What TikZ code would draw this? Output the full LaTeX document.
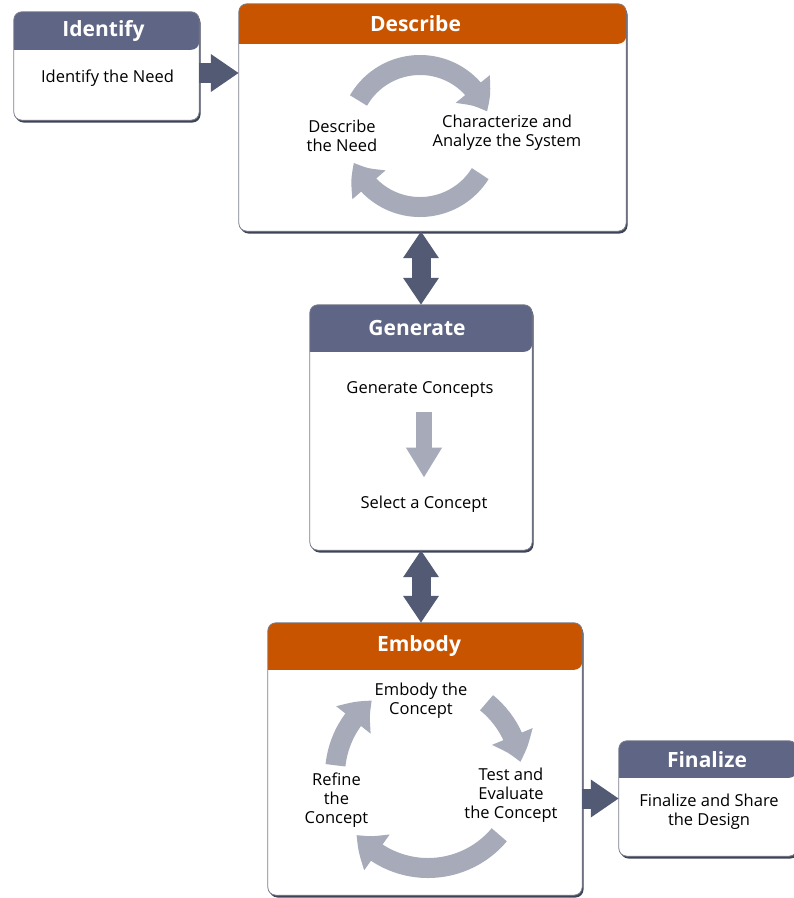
\documentclass[tikz,border=0pt]{standalone}
\usepackage{fontspec}
\setmainfont{Open Sans}
\usepackage{tikz}
\usetikzlibrary{arrows.meta,bending,shadows,positioning,calc}
\definecolor{slate}{HTML}{5F6584}
\definecolor{rust}{HTML}{C85400}
\definecolor{arrowdark}{HTML}{535A74}
\definecolor{cyclegray}{HTML}{A6AAB9}
\definecolor{edgegray}{HTML}{7A7D8C}

\begin{document}
\begin{tikzpicture}[x=1pt,y=1pt]
\tikzstyle{stage}=[rectangle,rounded corners=8pt,fill=white,inner sep=0pt,
  drop shadow={shadow xshift=1.5pt,shadow yshift=-2.5pt,fill=arrowdark!75!black,opacity=1}]
\tikzstyle{title}=[text=white,font=\bfseries\fontsize{21}{24}\selectfont]
\tikzstyle{steptext}=[align=center,inner sep=1pt,font=\fontsize{16.5}{19}\selectfont]
\tikzstyle{flow}=[arrowdark,line width=20pt,-{Triangle[length=28pt,width=36pt]}]
\tikzstyle{both}=[arrowdark,line width=19pt,{Triangle[length=27pt,width=34pt]}-{Triangle[length=27pt,width=34pt]}]
\tikzstyle{turn}=[cyclegray,line width=20pt,-{Triangle[length=27pt,width=42pt,bend]}]
\tikzstyle{drop}=[cyclegray,line width=16pt,-{Triangle[length=30pt,width=34pt]}]

\useasboundingbox (0,0) rectangle (794,-898);

% boxes
\node[stage,minimum width=185pt,minimum height=108pt] (identify) at (106.5,-66) {};
\node[stage,minimum width=387pt,minimum height=227pt] (describe) at (432.5,-117.5) {};
\node[stage,minimum width=222pt,minimum height=245pt] (generate) at (421,-427.5) {};
\node[stage,minimum width=314pt,minimum height=272pt] (embody) at (425,-759) {};
\node[stage,minimum width=178pt,minimum height=115pt] (finalize) at (708,-798.5) {};

% headers and titles
\foreach \n/\c/\h/\dx/\t in {identify/slate/38/-3/Identify,describe/rust/40/-17/Describe,
    generate/slate/47/-4/Generate,embody/rust/47/-6/Embody,finalize/slate/37/-1/Finalize}{
  \fill[\c] ([yshift=-\h]\n.north west) [rounded corners=8pt] |- (\n.north)
    -| ([yshift=-\h]\n.north east) [sharp corners] -- cycle;
  \node[title] at ([xshift=\dx,yshift=-\h*0.5]\n.north) {\t};
  \draw[edgegray,line width=0.8pt,rounded corners=8pt] (\n.south west) rectangle (\n.north east);
}

% texts
\node[steptext] (idneed) at (107.5,-78) {Identify the Need};
\node[steptext] (descneed) at (342,-136) {Describe\\the Need};
\node[steptext] (charsys) at (507,-133) {Characterize and\\Analyze the System};
\node[steptext] (gencon) at (420,-389) {Generate Concepts};
\node[steptext] (selcon) at (424,-504) {Select a Concept};
\node[steptext] (embcon) at (421,-701) {Embody the\\Concept};
\node[steptext] (testcon) at (511,-795) {Test and\\Evaluate\\the Concept};
\node[steptext] (refcon) at (336.5,-800) {Refine\\the\\Concept};
\node[steptext] (finshare) at (709,-812) {Finalize and Share\\the Design};

% cycles
\coordinate (dcenter) at (420,-136);
\draw[turn] ([shift={(150:71)}]dcenter) arc[start angle=150,end angle=20,radius=71];
\draw[turn] ([shift={(-32:71)}]dcenter) arc[start angle=-32,end angle=-158,radius=71];
\coordinate (ecenter) at (428,-775);
\draw[turn] ([shift={(51:93)}]ecenter) arc[start angle=51,end angle=8,radius=93];
\draw[turn] ([shift={(-40:93)}]ecenter) arc[start angle=-40,end angle=-140,radius=93];
\draw[turn] ([shift={(174:93)}]ecenter) arc[start angle=174,end angle=127,radius=93];
\draw[drop,shorten <=14pt,shorten >=17pt] (gencon.south -| selcon.north) -- (selcon.north);

% connectors
\draw[flow] ([yshift=-7pt]identify.east) -- ([yshift=-7pt]identify.east -| describe.west);
\draw[both] (generate.north |- describe.south) -- (generate.north);
\draw[both] (generate.south) -- (embody.north -| generate.south);
\draw[flow] (embody.east |- finalize.west) -- (finalize.west);
\end{tikzpicture}
\end{document}
